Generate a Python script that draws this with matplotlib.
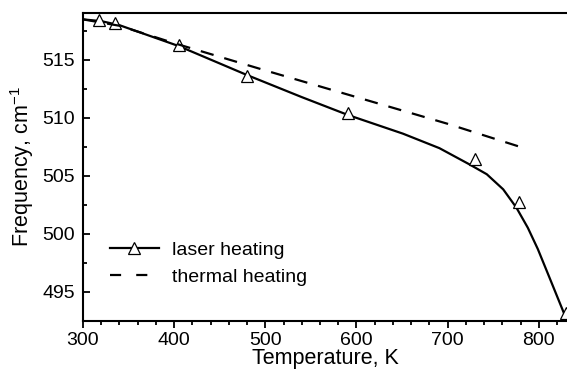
import matplotlib
matplotlib.use("Agg")
import matplotlib.pyplot as plt
from matplotlib.lines import Line2D
from matplotlib.ticker import MultipleLocator

plt.rcParams['font.family'] = ['Liberation Sans', 'DejaVu Sans']
plt.rcParams['mathtext.default'] = 'regular'

# measured points, laser heating
laser_T = [318, 335, 405, 480, 591, 730, 778, 830]
laser_f = [518.45, 518.2, 516.3, 513.6, 510.4, 506.5, 502.8, 493.2]

# fitted curve through the laser points
fit_T = [300, 320, 340, 405, 480, 540, 591, 651, 691, 724, 743, 761, 775.5, 788, 799, 812, 827, 832]
fit_f = [518.5, 518.35, 518.0, 516.2, 513.7, 511.8, 510.25, 508.65, 507.4, 506.0, 505.15,
         503.85, 502.27, 500.54, 498.7, 496.2, 493.3, 492.3]

# thermal heating
thermal_T = [300, 340, 400, 500, 600, 700, 778]
thermal_f = [518.5, 517.95, 516.45, 514.1, 511.8, 509.5, 507.55]

fig = plt.figure(figsize=(5.67, 3.76), dpi=100)
ax = fig.add_axes([83 / 567, 55 / 376, 484 / 567, 308 / 376])

ax.plot(fit_T, fit_f, color='black', lw=1.6)
ax.plot(laser_T, laser_f, ls='none', marker='^', ms=8, mfc='white', mec='black', mew=0.9)
ax.plot(thermal_T, thermal_f, color='black', lw=1.6, dashes=(6, 5))

ax.set_xlim(300, 831)
ax.set_ylim(492.5, 519.05)
ax.xaxis.set_major_locator(MultipleLocator(100))
ax.xaxis.set_minor_locator(MultipleLocator(20))
ax.yaxis.set_major_locator(MultipleLocator(5))
ax.yaxis.set_minor_locator(MultipleLocator(2.5))

ax.spines['right'].set_visible(False)
for s in ['left', 'bottom', 'top']:
    ax.spines[s].set_linewidth(1.5)
ax.tick_params(axis='y', which='both', direction='in', labelsize=14, width=1.3, pad=6)
ax.tick_params(axis='x', which='both', direction='out', labelsize=14, width=1.3, pad=3)
ax.tick_params(which='major', length=5)
ax.tick_params(which='minor', length=3)

ax.set_xlabel("Temperature, K", fontsize=15.5, labelpad=-1)
ax.set_ylabel("Frequency, cm$^{-1}$", fontsize=15.5, labelpad=4)

handles = [
    Line2D([], [], color='black', lw=1.6, marker='^', ms=8, mfc='white', mec='black', mew=0.9),
    Line2D([], [], color='black', lw=1.6, dashes=(5, 6.8)),
]
ax.legend(handles, ["laser heating", "thermal heating"], loc='center left',
          bbox_to_anchor=(0.056, 0.187), frameon=False, fontsize=14,
          borderpad=0, borderaxespad=0, handlelength=2.5, handletextpad=0.7,
          labelspacing=0.5)

fig.savefig("out.png", dpi=100)
